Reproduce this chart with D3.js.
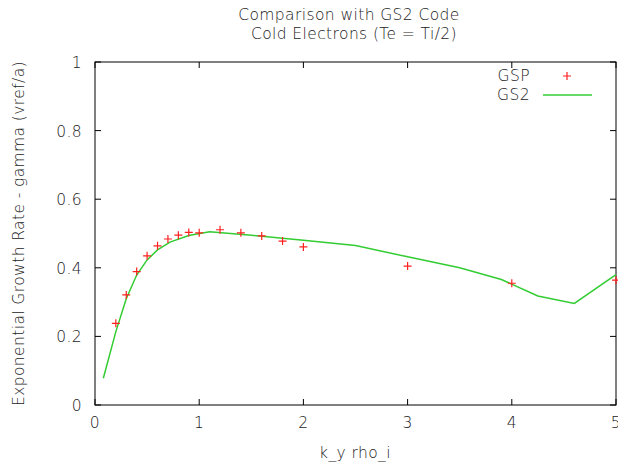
<!DOCTYPE html>
<html lang="en">

<head>
    <meta charset="UTF-8">
    <title>Comparison with GS2 Code</title>
    <script src="https://d3js.org/d3.v7.min.js"></script>
    <style>
        body {
            margin: 0;
            background: #fff;
        }

        text {
            font-family: "DejaVu Sans", sans-serif;
            font-weight: 200;
            font-size: 15.5px;
            letter-spacing: 0.4px;
            fill: #1a1a1a;
        }
    </style>
</head>

<body>
    <div id="chart"></div>

    <script>
        const width = 618;
        const height = 466;
        const marginTop = 62;
        const marginRight = 2;
        const marginBottom = 61;
        const marginLeft = 95;

        // GSP points (red plus)
        const gspK = [0.2, 0.3, 0.4, 0.5, 0.6, 0.7, 0.8, 0.9, 1.0, 1.2, 1.4, 1.6, 1.8, 2.0, 3.0, 4.0, 5.0];
        const gspGamma = [0.238, 0.321, 0.389, 0.435, 0.464, 0.484, 0.495, 0.503, 0.502, 0.511, 0.502, 0.493, 0.478, 0.461, 0.405, 0.355, 0.364];

        // GS2 curve (green line)
        const gs2K = [0.08, 0.2, 0.3, 0.4, 0.5, 0.6, 0.72, 0.9, 1.1, 1.5, 2.0, 2.5, 3.0, 3.5, 3.9, 4.25, 4.6, 5.0];
        const gs2Gamma = [0.078, 0.214, 0.31, 0.379, 0.423, 0.452, 0.475, 0.494, 0.505, 0.495, 0.48, 0.465, 0.432, 0.4, 0.366, 0.318, 0.296, 0.38];

        const xTicks = [0, 1, 2, 3, 4, 5];
        const yTicks = [0, 0.2, 0.4, 0.6, 0.8, 1];

        const svg = d3.select("#chart")
            .append("svg")
            .attr("width", width)
            .attr("height", height)
            .attr("viewBox", [0, 0, width, height]);

        const x = d3.scaleLinear().domain([0, 5]).range([marginLeft, width - marginRight]);
        const y = d3.scaleLinear().domain([0, 1]).range([height - marginBottom, marginTop]);

        // frame
        svg.append("rect")
            .attr("x", x(0))
            .attr("y", y(1))
            .attr("width", x(5) - x(0))
            .attr("height", y(0) - y(1))
            .attr("fill", "none")
            .attr("stroke", "#000")
            .attr("stroke-width", 1);

        // ticks on all four sides, pointing inward
        const tk = 6;
        const tickG = svg.append("g").attr("stroke", "#000").attr("stroke-width", 1);
        xTicks.forEach(t => {
            tickG.append("line").attr("x1", x(t)).attr("x2", x(t)).attr("y1", y(0)).attr("y2", y(0) - tk);
            tickG.append("line").attr("x1", x(t)).attr("x2", x(t)).attr("y1", y(1)).attr("y2", y(1) + tk);
        });
        yTicks.forEach(t => {
            tickG.append("line").attr("x1", x(0)).attr("x2", x(0) + tk).attr("y1", y(t)).attr("y2", y(t));
            tickG.append("line").attr("x1", x(5)).attr("x2", x(5) - tk).attr("y1", y(t)).attr("y2", y(t));
        });

        svg.append("g")
            .selectAll("text")
            .data(xTicks)
            .join("text")
            .attr("x", d => x(d))
            .attr("y", y(0) + 23)
            .attr("text-anchor", "middle")
            .text(d => d);

        svg.append("g")
            .selectAll("text")
            .data(yTicks)
            .join("text")
            .attr("x", x(0) - 13)
            .attr("y", d => y(d) + 6)
            .attr("text-anchor", "end")
            .text(d => d);

        // titles
        svg.append("text")
            .attr("x", 349)
            .attr("y", 20)
            .attr("text-anchor", "middle")
            .text("Comparison with GS2 Code");
        svg.append("text")
            .attr("x", 354)
            .attr("y", 39)
            .attr("text-anchor", "middle")
            .text("Cold Electrons (Te = Ti/2)");

        svg.append("text")
            .attr("x", 355)
            .attr("y", 458)
            .attr("text-anchor", "middle")
            .text("k_y rho_i");

        svg.append("text")
            .attr("transform", `translate(24,${(y(0) + y(1)) / 2}) rotate(-90)`)
            .attr("text-anchor", "middle")
            .text("Exponential Growth Rate - gamma (vref/a)");

        // GS2 line
        const gs2 = gs2K.map((k, i) => ({ k, g: gs2Gamma[i] }));
        const line = d3.line().x(d => x(d.k)).y(d => y(d.g));
        svg.append("path")
            .datum(gs2)
            .attr("fill", "none")
            .attr("stroke", "#33cc33")
            .attr("stroke-width", 1.5)
            .attr("d", line);

        // GSP points
        const gsp = gspK.map((k, i) => ({ k, g: gspGamma[i] }));
        const ps = 4;
        svg.append("g")
            .attr("stroke", "#ff2020")
            .attr("stroke-width", 1.2)
            .selectAll("path")
            .data(gsp)
            .join("path")
            .attr("d", d => `M${x(d.k) - ps},${y(d.g)}H${x(d.k) + ps}M${x(d.k)},${y(d.g) - ps}V${y(d.g) + ps}`);

        // legend
        const legend = svg.append("g");
        legend.append("text")
            .attr("x", 530)
            .attr("y", 81)
            .attr("text-anchor", "end")
            .text("GSP");
        legend.append("path")
            .attr("d", `M${567 - ps},76H${567 + ps}M567,${76 - ps}V${76 + ps}`)
            .attr("stroke", "#ff2020")
            .attr("stroke-width", 1.2);
        legend.append("text")
            .attr("x", 530)
            .attr("y", 100)
            .attr("text-anchor", "end")
            .text("GS2");
        legend.append("line")
            .attr("x1", 543)
            .attr("x2", 592)
            .attr("y1", 95)
            .attr("y2", 95)
            .attr("stroke", "#33cc33")
            .attr("stroke-width", 1.5);
    </script>
</body>

</html>
